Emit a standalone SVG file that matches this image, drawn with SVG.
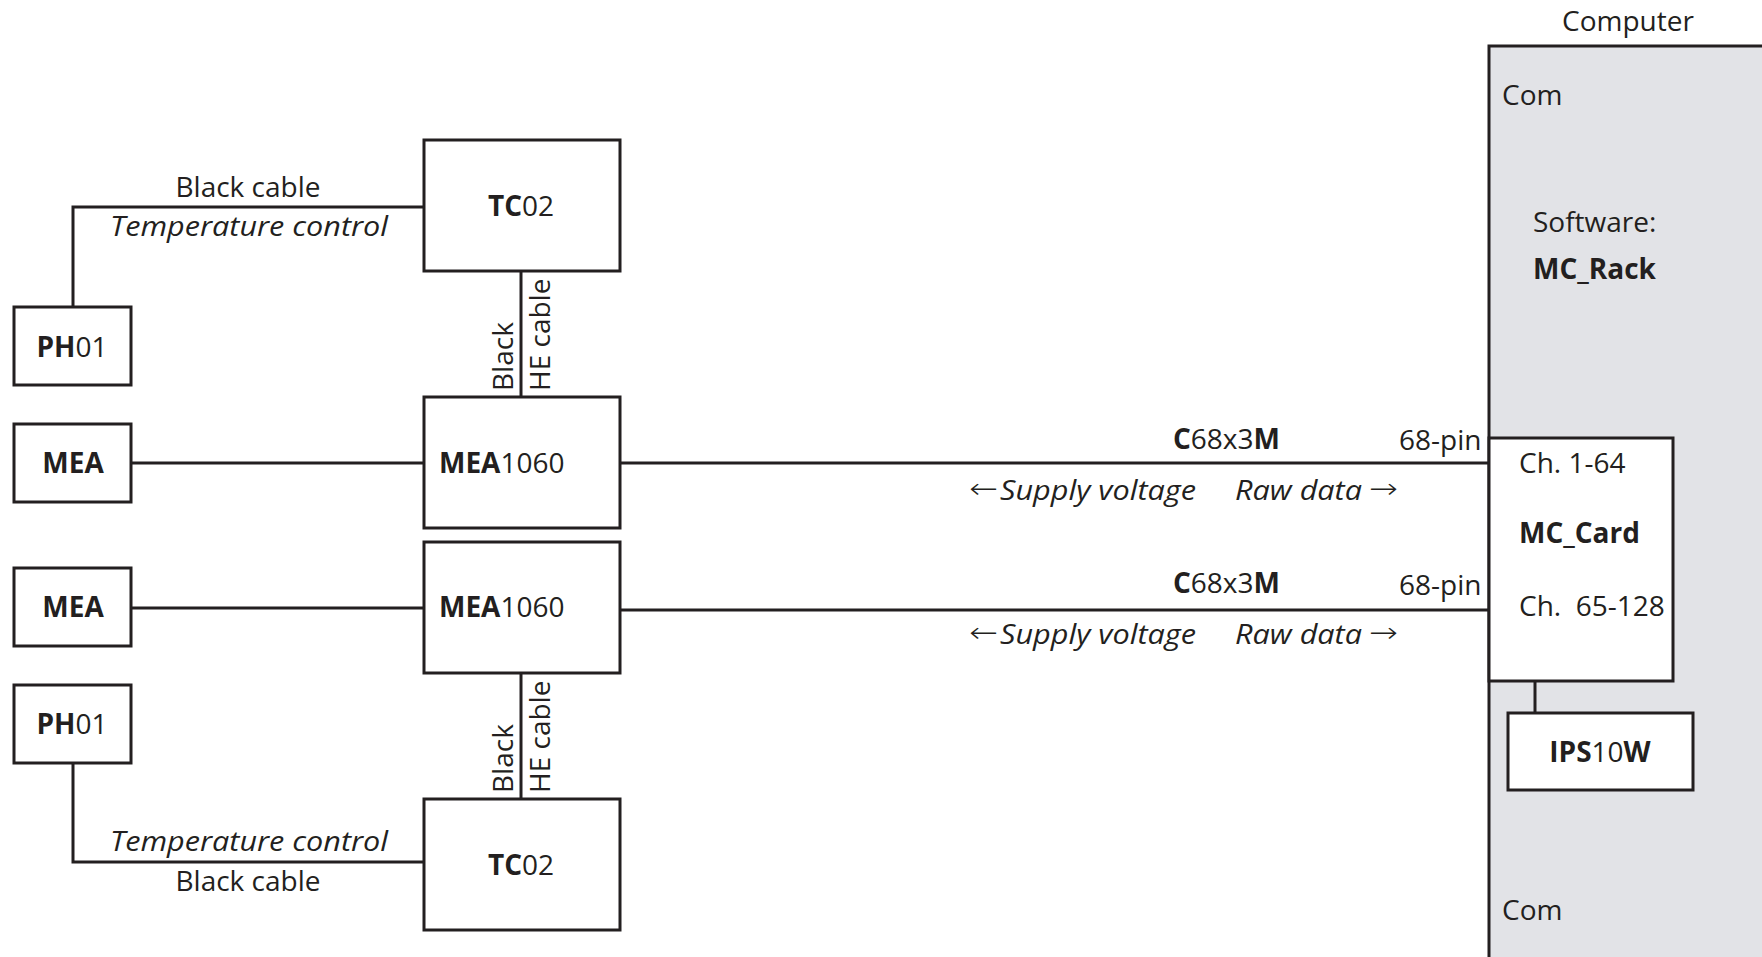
<svg xmlns="http://www.w3.org/2000/svg" width="1762" height="957" viewBox="0 0 1762 957">
<style>
text{font-family:"Open Sans","Noto Sans","DejaVu Sans",sans-serif;font-size:28px;fill:#231f20}
.b{font-weight:bold}
.i{font-style:italic}
.ar{font-family:"DejaVu Sans",sans-serif;font-weight:200}
.box{fill:#fff;stroke:#231f20;stroke-width:3}
.ln{fill:none;stroke:#231f20;stroke-width:3}
.mid{text-anchor:middle}
</style>
<rect width="1762" height="957" fill="#fff"/>
<g id="computer">
<rect x="1489" y="46" width="290" height="930" fill="#e2e3e7" stroke="#231f20" stroke-width="3"/>
<text x="1628" y="31" class="mid">Computer</text>
<text x="1502" y="105">Com</text>
<text x="1533" y="232">Software:</text>
<text x="1533" y="279" class="b">MC_Rack</text>
<text x="1502" y="920">Com</text>
</g>
<g id="connectors">
<polyline class="ln" points="73,307 73,207 424,207"/>
<polyline class="ln" points="73,763 73,862 424,862"/>
<line class="ln" x1="521" y1="271" x2="521" y2="397"/>
<line class="ln" x1="521" y1="673" x2="521" y2="799"/>
<line class="ln" x1="131" y1="463" x2="424" y2="463"/>
<line class="ln" x1="131" y1="608" x2="424" y2="608"/>
<line class="ln" x1="620" y1="463" x2="1489" y2="463"/>
<line class="ln" x1="620" y1="610" x2="1489" y2="610"/>
<line class="ln" x1="1535" y1="681" x2="1535" y2="713"/>
</g>
<g id="labels">
<text x="248" y="197" class="mid">Black cable</text>
<text x="110" y="236" class="i" textLength="278" lengthAdjust="spacingAndGlyphs">Temperature control</text>
<text x="110" y="851" class="i" textLength="278" lengthAdjust="spacingAndGlyphs">Temperature control</text>
<text x="248" y="891" class="mid">Black cable</text>
<text transform="translate(513,391) rotate(-90)">Black</text>
<text transform="translate(550,391) rotate(-90)">HE cable</text>
<text transform="translate(513,793) rotate(-90)">Black</text>
<text transform="translate(550,793) rotate(-90)">HE cable</text>
<text x="1173" y="449"><tspan class="b">C</tspan>68x3<tspan class="b">M</tspan></text>
<text x="1173" y="593"><tspan class="b">C</tspan>68x3<tspan class="b">M</tspan></text>
<text x="1399" y="450">68-pin</text>
<text x="1399" y="595">68-pin</text>
<text x="969" y="498" class="ar" textLength="29" lengthAdjust="spacingAndGlyphs">←</text>
<text x="1000" y="500" class="i" textLength="196" lengthAdjust="spacingAndGlyphs">Supply voltage</text>
<text x="1235" y="500" class="i" textLength="127" lengthAdjust="spacingAndGlyphs">Raw data</text>
<text x="1369" y="498" class="ar" textLength="29" lengthAdjust="spacingAndGlyphs">→</text>
<text x="969" y="642" class="ar" textLength="29" lengthAdjust="spacingAndGlyphs">←</text>
<text x="1000" y="644" class="i" textLength="196" lengthAdjust="spacingAndGlyphs">Supply voltage</text>
<text x="1235" y="644" class="i" textLength="127" lengthAdjust="spacingAndGlyphs">Raw data</text>
<text x="1369" y="642" class="ar" textLength="29" lengthAdjust="spacingAndGlyphs">→</text>
</g>
<g id="ph01-top">
<rect class="box" x="14" y="307" width="117" height="78"/>
<text x="72" y="357" class="mid"><tspan class="b">PH</tspan>01</text>
</g>
<g id="mea-top">
<rect class="box" x="14" y="424" width="117" height="78"/>
<text x="73" y="473" class="mid b">MEA</text>
</g>
<g id="mea-bottom">
<rect class="box" x="14" y="568" width="117" height="78"/>
<text x="73" y="617" class="mid b">MEA</text>
</g>
<g id="ph01-bottom">
<rect class="box" x="14" y="685" width="117" height="78"/>
<text x="72" y="734" class="mid"><tspan class="b">PH</tspan>01</text>
</g>
<g id="tc02-top">
<rect class="box" x="424" y="140" width="196" height="131"/>
<text x="521" y="216" class="mid"><tspan class="b">TC</tspan>02</text>
</g>
<g id="mea1060-top">
<rect class="box" x="424" y="397" width="196" height="131"/>
<text x="439" y="473"><tspan class="b">MEA</tspan>1060</text>
</g>
<g id="mea1060-bottom">
<rect class="box" x="424" y="542" width="196" height="131"/>
<text x="439" y="617"><tspan class="b">MEA</tspan>1060</text>
</g>
<g id="tc02-bottom">
<rect class="box" x="424" y="799" width="196" height="131"/>
<text x="521" y="875" class="mid"><tspan class="b">TC</tspan>02</text>
</g>
<g id="mc-card">
<rect class="box" x="1489" y="438" width="184" height="243"/>
<text x="1519" y="473">Ch. 1-64</text>
<text x="1519" y="543" class="b">MC_Card</text>
<text x="1519" y="616" xml:space="preserve">Ch.  65-128</text>
</g>
<g id="ips10w">
<rect class="box" x="1508" y="713" width="185" height="77"/>
<text x="1600" y="762" class="mid"><tspan class="b">IPS</tspan>10<tspan class="b">W</tspan></text>
</g>
</svg>
